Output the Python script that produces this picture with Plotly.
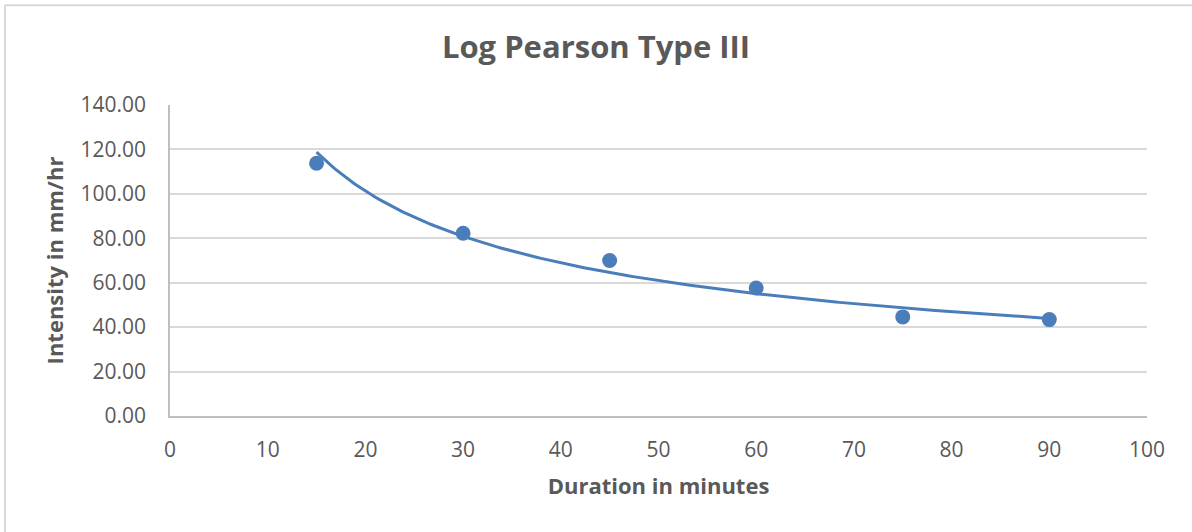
import numpy as np
import plotly.graph_objects as go

duration_min = [15, 30, 45, 60, 75, 90]
intensity_mmhr = [113.8, 82.3, 70.0, 57.6, 44.6, 43.4]

title_text = "Log Pearson Type III"
x_title = "Duration in minutes"
y_title = "Intensity in mm/hr"

# power trendline (Excel-style least squares on logs) from the data points
b, ln_a = np.polyfit(np.log(duration_min), np.log(intensity_mmhr), 1)
x_fit = np.linspace(min(duration_min), max(duration_min), 200)
y_fit = np.exp(ln_a) * x_fit ** b

blue = "#4A7EBB"
grey_text = "#595959"
font_family = "Open Sans"

fig = go.Figure()
fig.add_trace(go.Scatter(x=x_fit, y=y_fit, mode="lines",
                         line=dict(color=blue, width=3), hoverinfo="skip",
                         showlegend=False))
fig.add_trace(go.Scatter(x=duration_min, y=intensity_mmhr, mode="markers",
                         marker=dict(color=blue, size=15), showlegend=False))

fig.update_layout(
    width=1192, height=532,
    margin=dict(l=170, r=45, t=105, b=115.5),
    paper_bgcolor="white", plot_bgcolor="white",
    font=dict(family=font_family, color=grey_text),
    title=dict(text=title_text, x=0.5, xref="container", xanchor="center",
               y=1 - 47 / 532, yref="container", yanchor="middle",
               font=dict(size=31, color=grey_text, family=font_family, weight="bold")),
    xaxis=dict(range=[0, 100], dtick=10, tick0=0, showgrid=False,
               showline=True, linecolor="#BFBFBF", linewidth=1.5,
               zeroline=False, ticks="", ticklabelstandoff=14,
               tickfont=dict(size=21, color=grey_text),
               title=dict(text=x_title, standoff=17,
                          font=dict(size=22, color=grey_text, weight="bold"))),
    yaxis=dict(range=[0, 140], dtick=20, tick0=0, tickformat=".2f",
               showgrid=True, gridcolor="#D9D9D9", gridwidth=1.5,
               showline=True, linecolor="#BFBFBF", linewidth=1.5,
               zeroline=False, ticks="", ticklabelstandoff=18,
               tickfont=dict(size=21, color=grey_text),
               title=dict(text=y_title, standoff=11,
                          font=dict(size=22, color=grey_text, weight="bold"))),
    shapes=[
        dict(type="line", xref="paper", yref="paper",
             x0=(5 - 170) / 977, x1=(5 - 170) / 977,
             y0=-1, y1=(416.5 - 5) / 311.5,
             line=dict(color="#D9D9D9", width=2)),
        dict(type="line", xref="paper", yref="paper",
             x0=(5 - 170) / 977, x1=1.2,
             y0=(416.5 - 5) / 311.5, y1=(416.5 - 5) / 311.5,
             line=dict(color="#D9D9D9", width=2)),
    ],
)

fig.write_html("out.html", config={"displayModeBar": False})

# remove the default page margin so the figure sits at the window's top-left
with open("out.html", encoding="utf-8") as f:
    html = f.read()
html = html.replace("<head>", "<head><style>body{margin:0;padding:0;}</style>", 1)
with open("out.html", "w", encoding="utf-8") as f:
    f.write(html)
